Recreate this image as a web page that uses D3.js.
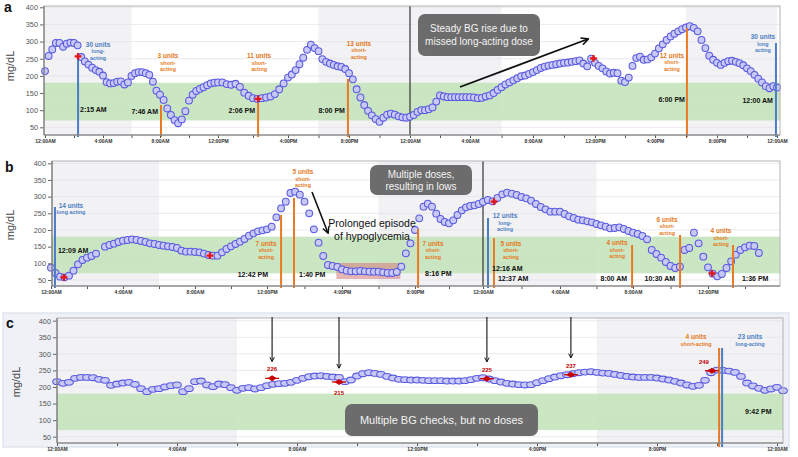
<!DOCTYPE html>
<html><head><meta charset="utf-8">
<script src="https://cdn.jsdelivr.net/npm/d3@7"></script>
<style>
body{margin:0;background:#fff;}
svg{display:block;font-family:"Liberation Sans",Arial,sans-serif;}
</style></head><body>
<svg id="chart" width="798" height="457"></svg>
<script>
// ---------------- DATA ----------------
const tickLabels = ["12:00AM","4:00AM","8:00AM","12:00PM","4:00PM","8:00PM","12:00AM","4:00AM","8:00AM","12:00PM","4:00PM","8:00PM","12:00AM"];
const yTicks = [50,100,150,200,250,300,350,400];
const targetRange = [70,180];

// Panel a: CGM readings every 15 min from 12:00 AM (day 1) to 12:00 AM (day 3)
const aGlucose = [214,258,277,296, 296,285,294,297, 296,289,255,242, 233,224,217,212,
 201,182,178,179, 183,184,175,181, 200,208,211,211, 208,203,183,157,
 145,130,105,86, 71,62,73,97, 128,145,156,162, 167,173,178,180,
 181,181,176,174, 177,168,151,142, 135,133,135,137, 140,147,161,178,
 195,204,217,234, 253,276,291,281, 272,249,241,236, 232,228,226,220,
 208,190,161,137, 115,98,85,74, 66,78,87,90, 87,82,79,78,
 81,86,95,100, 100,103,108,125, 143,140,138,138, 138,138,138,138,
 138,137,135,136, 140,143,150,159, 167,175,181,187, 193,199,201,206,
 211,217,223,227, 230,232,234,236, 238,239,241,243, 245,236,228,250,
 238,229,222,213, 207,209,208,186, 182,195,229,252, 256,247,248,254,
 265,280,292,305, 315,323,330,336, 341,345,340,330, 305,281,259,247,
 238,232,238,243, 244,241,237,231, 222,214,203,192, 181,170,164,170, 166];
const aDoses = [
 {t:2.28, units:30, type:"long", time:"2:15 AM"},
 {t:8.07, units:3, type:"short", time:"7:46 AM"},
 {t:14.29, units:11, type:"short", time:"2:06 PM"},
 {t:19.93, units:13, type:"short", time:"8:00 PM"},
 {t:42.06, units:12, type:"short", time:"6:00 PM"},
 {t:47.93, units:30, type:"long", time:"12:00 AM"}];
const aChecks = [{t:2.28,v:257},{t:14.29,v:133},{t:35.9,v:251}];

// Panel b: CGM readings every 15 min from 12:00 AM
const bGlucose = [87,71,60,58, 63,78,97,110, 117,122,129,null, 150,155,159,164,
 168,170,172,170, 167,164,160,158, 155,153,151,149, 146,138,135,135,
 134,133,129,125, 123,123,133,143, 151,158,165,173, 183,190,196,199,
 202,210,238,265, 285,311,315,306, 285,250,202,162, 122,95,92,89,
 82,78,76,76, 77,76,75,75, 75,73,71,71, 74,90,130,160,
 200,235,270,279, 270,249,233,224, 220,229,245,259, 268,272,274,278,
 284,290,286,296, 307,312,309,305, 299,295,288,278, 269,262,255,255,
 255,248,241,236, 231,229,226,223, 218,214,210,205, 206,208,203,197,
 192,188,182,172, 140,128,117,104, 92,86,90,140, 146,192,160,120,
 88,69,61,68, 86,106,126,140, 148,153,152,131];
const bDoses = [
 {t:0.22, units:14, type:"long", time:"12:09 AM"},
 {t:12.75, units:7, type:"short", time:"12:42 PM"},
 {t:13.44, units:5, type:"short", time:"1:40 PM"},
 {t:20.18, units:7, type:"short", time:"8:16 PM"},
 {t:24.26, units:12, type:"long", time:"12:16 AM"},
 {t:24.57, units:5, type:"short", time:"12:37 AM"},
 {t:31.95, units:4, type:"short", time:"8:00 AM"},
 {t:34.51, units:6, type:"short", time:"10:30 AM"},
 {t:37.35, units:4, type:"short", time:"1:36 PM"}];
const bChecks = [{t:0.72,v:58},{t:8.83,v:123},{t:24.57,v:285},{t:36.22,v:70}];
const bLowEpisode = {t0:15.7, t1:19.2, v0:53, v1:101};

// Panel c: CGM readings every 12 min from 12:00 AM
const cGlucose = [216,211,214,226,229,229,228,223,220,205,
 209,212,214,208,195,186,193,195,200,204,
 206,186,195,216,218,206,201,209,207,198,
 190,196,198,194,198,204,208,210,211,214,
 220,226,231,233,234,232,230,229,216,221,
 233,240,243,241,238,232,227,223,222,221,
 221,220,219,219,219,218,218,218,219,222,
 226,228,224,219,215,211,209,207,206,207,
 213,219,225,230,234,237,240,243,245,246,
 244,242,241,238,235,232,230,229,229,229,
 227,224,221,217,212,206,202,205,220,243,
 251,250,248,244,232,212,203,196,190,194,
 199,189];
const cDoses = [
 {t:22.07, units:4, type:"short", time:"9:42 PM"},
 {t:22.17, units:23, type:"long", time:"9:42 PM"}];
const cChecks = [{t:7.17,v:226,arrow:true},{t:9.4,v:215,arrow:true},{t:14.33,v:225,arrow:true},{t:17.13,v:237,arrow:true},{t:21.83,v:249,arrow:false}];

// ---------------- STYLE / LAYOUT ----------------
const ORANGE_T="#e47a1c", BLUE_T="#4e80c3", ORANGE_L="#ea7a22", BLUE_L="#4b7cc6";
const svg = d3.select("#chart");
const defs = svg.append("defs");
defs.append("marker").attr("id","arrow").attr("viewBox","0 0 10 10").attr("refX",8.5).attr("refY",5)
  .attr("markerWidth",5).attr("markerHeight",5).attr("orient","auto")
  .append("path").attr("d","M1,1 L9,5 L1,9").attr("fill","none").attr("stroke","#111").attr("stroke-width",1.8);

const xA = d3.scaleLinear().domain([0,4,8,12,16,20,24,28,32,36,40,44,48]).range([45,103,160,218,288,349,410,470,533,595,655,717,777]);
const yA = d3.scaleLinear().domain([27.6,400]).range([135,7.3]);
const xB = d3.scaleLinear().domain([0,4,8,12,16,20,24,28,32,36,40]).range([51,123,195,267,342,415,483,560,633,708,782]);
const yB = d3.scaleLinear().domain([32,400]).range([286,163.3]);
const xC = d3.scaleLinear().domain([0,24]).range([57,777]);
const yC = d3.scaleLinear().domain([31,400]).range([443,320.7]);

function drawPanel(P){
  const g = svg.append("g");
  const {x,y,L,R,T,B} = P;
  if(P.outer) g.append("rect").attr("x",P.outer[0]).attr("y",P.outer[1]).attr("width",P.outer[2]).attr("height",P.outer[3])
     .attr("fill","#eff1f6").attr("stroke","#dfe5ee").attr("stroke-width",1.5);
  g.append("rect").attr("x",L).attr("y",T).attr("width",R-L).attr("height",B-T).attr("fill","#fff");
  g.selectAll(".night").data(P.night).join("rect").attr("class","night")
    .attr("x",d=>x(d[0])).attr("y",T).attr("width",d=>Math.min(x(d[1]),R)-x(d[0])).attr("height",B-T).attr("fill","#f2f2f4");
  g.selectAll(".grid").data(yTicks).join("line").attr("class","grid")
    .attr("x1",L).attr("x2",R).attr("y1",d=>y(d)).attr("y2",d=>y(d)).attr("stroke","#e3e3e8").attr("stroke-width",0.7);
  g.append("rect").attr("x",L).attr("width",R-L).attr("y",y(targetRange[1])).attr("height",y(targetRange[0])-y(targetRange[1]))
    .attr("fill","#c4e2ba").attr("opacity",0.88);
  if(P.region){
    const r=P.region;
    g.append("rect").attr("x",x(r.t0)).attr("width",x(r.t1)-x(r.t0)).attr("y",y(r.v1)).attr("height",y(r.v0)-y(r.v1))
      .attr("fill","#d48484").attr("opacity",0.6);
  }
  if(P.dayBreak!=null) g.append("line").attr("x1",x(P.dayBreak)).attr("x2",x(P.dayBreak)).attr("y1",T).attr("y2",B).attr("stroke","#333").attr("stroke-width",1.2);

  // glucose readings
  const pts = P.glucose.map((v,i)=>({t:i*P.step, v})).filter(d=>d.v!=null);
  g.selectAll(".bg").data(pts).join("ellipse").attr("class","bg")
    .attr("cx",d=>x(d.t)).attr("cy",d=>y(d.v)).attr("rx",P.rx).attr("ry",P.ry)
    .attr("fill","#c9c9f6").attr("stroke","#5959e0").attr("stroke-width",1.05);

  // dose lines
  P.doses.forEach((d,i)=>{
    const l=P.layout[i];
    g.append("line").attr("x1",x(d.t)).attr("x2",x(d.t)).attr("y1",l.top).attr("y2",P.lineBottom)
      .attr("stroke",d.type==="long"?BLUE_L:ORANGE_L).attr("stroke-width",2);
  });

  // BG checks
  if(P.checkStyle==="cross"){
    g.selectAll(".chk").data(P.checks).join("path").attr("class","chk")
      .attr("transform",d=>`translate(${x(d.t)},${y(d.v)})`).attr("d",d3.symbol(d3.symbolCross,26)).attr("fill","#e51515");
  } else {
    const c = g.selectAll(".chk").data(P.checks).join("g").attr("class","chk").attr("transform",d=>`translate(${x(d.t)},${y(d.v)})`);
    c.append("line").attr("x1",-7).attr("x2",7).attr("stroke","#c80000").attr("stroke-width",1.3);
    c.append("path").attr("d","M-4.5,0 L0,-3 L4.5,0 L0,3 Z").attr("fill","#c80000");
  }

  // axes
  const xt = d3.range(0,P.maxTick+0.01,2);
  g.append("g").attr("transform",`translate(0,${B})`)
    .call(d3.axisBottom(x).tickValues(xt).tickSize(3).tickSizeOuter(0).tickPadding(1.5).tickFormat(d=>d%4===0?tickLabels[d/4]:""))
    .call(s=>{s.select(".domain").remove();
      s.selectAll("line").attr("stroke","#555");
      s.selectAll("text").attr("font-size",5).attr("font-weight","bold").attr("fill","#333").attr("font-family","Liberation Sans, Arial");});
  g.append("g").attr("transform",`translate(${L},0)`)
    .call(d3.axisLeft(y).tickValues(yTicks).tickSize(4).tickSizeOuter(0).tickPadding(2))
    .call(s=>{s.select(".domain").remove();
      s.selectAll("line").attr("stroke","#666");
      s.selectAll("text").attr("font-size",7.3).attr("fill","#555").attr("font-family","Liberation Sans, Arial");});
  // frame
  g.append("rect").attr("x",L).attr("y",T).attr("width",R-L).attr("height",B-T).attr("fill","none").attr("stroke","#b4b4b8").attr("stroke-width",1);
  g.append("line").attr("x1",L).attr("x2",L).attr("y1",T).attr("y2",B).attr("stroke","#666");
  g.append("line").attr("x1",L).attr("x2",R).attr("y1",B).attr("y2",B).attr("stroke","#777");

  // y title & panel letter
  g.append("text").attr("transform",`translate(${P.titleX},${P.titleY}) rotate(-90)`).attr("text-anchor","middle")
    .attr("font-size",11).attr("fill","#444").text("mg/dL");
  g.append("text").attr("x",P.letterPos[0]).attr("y",P.letterPos[1]).attr("font-size",14).attr("font-weight","bold").attr("fill","#111").text(P.letter);

  // dose labels
  P.doses.forEach((d,i)=>{
    const l=P.layout[i], px=x(d.t), col=d.type==="long"?BLUE_T:ORANGE_T;
    g.append("text").attr("x",px+l.dx).attr("y",l.ty).attr("text-anchor","middle").attr("font-size",6.5).attr("font-weight","bold").attr("fill",col).text(`${d.units} units`);
    l.sub.forEach((s,k)=>g.append("text").attr("x",px+l.dx).attr("y",l.ty+(k+1)*6.6).attr("text-anchor","middle")
       .attr("font-size",5.4).attr("font-weight","bold").attr("fill",col).text(s));
    if(l.tty!=null) g.append("text").attr("x",px+l.tdx).attr("y",l.tty).attr("text-anchor",l.ta)
       .attr("font-size",7).attr("font-weight","bold").attr("fill","#111").text(d.time);
  });
  return g;
}

function box(g,x0,y0,w,h,lines,fs,lh){
  g.append("rect").attr("x",x0).attr("y",y0).attr("width",w).attr("height",h).attr("rx",7).attr("fill","#6c6c6c");
  const cy=y0+h/2-(lines.length-1)*lh/2;
  lines.forEach((s,k)=>g.append("text").attr("x",x0+w/2).attr("y",cy+k*lh+fs*0.36).attr("text-anchor","middle")
     .attr("font-size",fs).attr("fill","#f3f3f3").text(s));
}
function arrow(g,x1,y1,x2,y2,w){
  g.append("line").attr("x1",x1).attr("y1",y1).attr("x2",x2).attr("y2",y2).attr("stroke","#111").attr("stroke-width",w).attr("marker-end","url(#arrow)");
}

// ---------- Panel a ----------
const gA = drawPanel({x:xA,y:yA,L:44,R:780,T:6,B:135,night:[[0,6],[18,30],[42,48]],dayBreak:24,
  glucose:aGlucose,step:0.25,rx:3.4,ry:3.4,doses:aDoses,checks:aChecks,checkStyle:"cross",maxTick:48,lineBottom:137,
  titleX:14,titleY:66,letter:"a",letterPos:[4,12],
  layout:[
   {dx:20,ty:46.5,top:57,sub:["long-","acting"],tdx:2,tty:112,ta:"start"},
   {dx:7,ty:58,top:105,sub:["short-","acting"],tdx:-3,tty:114,ta:"end"},
   {dx:1,ty:58,top:103,sub:["short-","acting"],tdx:-3,tty:113,ta:"end"},
   {dx:11,ty:45.5,top:79,sub:["short-","acting"],tdx:-3,tty:113,ta:"end"},
   {dx:-15,ty:57.5,top:28,sub:["short-","acting"],tdx:-2,tty:101.5,ta:"end"},
   {dx:-13,ty:39,top:43,sub:["long","acting"],tdx:-3,tty:102.5,ta:"end"}]});
box(gA,418,14,122,42,["Steady BG rise due to","missed long-acting dose"],10,12.5);
arrow(gA,460,87,588,39,1.8);

// ---------- Panel b ----------
const gB = drawPanel({x:xB,y:yB,L:52,R:780,T:161,B:286,night:[[0,6],[18,30]],dayBreak:24,region:bLowEpisode,
  glucose:bGlucose,step:0.25,rx:3.4,ry:3.4,doses:bDoses,checks:bChecks,checkStyle:"cross",maxTick:38,lineBottom:288,
  titleX:14,titleY:225,letter:"b",letterPos:[5,172],
  layout:[
   {dx:16,ty:207.5,top:207,sub:["long acting"],tdx:3,tty:252.5,ta:"start"},
   {dx:-15,ty:245.5,top:215,sub:["short-","acting"],tdx:-13,tty:276.5,ta:"end"},
   {dx:9,ty:174,top:198,sub:["short-","acting"],tdx:5,tty:276.5,ta:"start"},
   {dx:15,ty:245.5,top:229,sub:["short-","acting"],tdx:7,tty:276,ta:"start"},
   {dx:17,ty:218,top:218,sub:["long-","acting"],tdx:4,tty:270.5,ta:"start"},
   {dx:17,ty:245.5,top:238,sub:["short-","acting"],tdx:4,tty:280.5,ta:"start"},
   {dx:-15,ty:245,top:245,sub:["short-","acting"],tdx:-5,tty:280.5,ta:"end"},
   {dx:-13,ty:221.5,top:235,sub:["short-","acting"],tdx:-5,tty:280.5,ta:"end"},
   {dx:-12,ty:233,top:245,sub:["short-","acting"],tdx:9,tty:280.5,ta:"start"}]});
box(gB,370,165,102,30,["Multiple doses,","resulting in lows"],10,12);
gB.append("text").attr("x",372).attr("y",227).attr("text-anchor","middle").attr("font-size",10.5).attr("fill","#111").text("Prolonged episode");
gB.append("text").attr("x",372).attr("y",240).attr("text-anchor","middle").attr("font-size",10.5).attr("fill","#111").text("of hypoglycemia");
arrow(gB,312,192,328,233,1.6);

// ---------- Panel c ----------
const gC = drawPanel({x:xC,y:yC,L:57,R:783,T:318,B:443,night:[[0,6],[18,24.3]],outer:[3,313,786,134],
  glucose:cGlucose,step:0.2,rx:4.3,ry:2.9,doses:cDoses,checks:cChecks,checkStyle:"diamond",maxTick:24,lineBottom:447,
  titleX:20,titleY:382,letter:"c",letterPos:[6,328],
  layout:[
   {dx:-23,ty:339,top:348,sub:["short-acting"],tty:null},
   {dx:28,ty:339,top:348,sub:["long-acting"],tdx:23,tty:414,ta:"start"}]});
cChecks.forEach(d=>{
  const below = d.v===215;
  const px = xC(d.t), py = yC(d.v);
  gC.append("text").attr("x",px+(d.arrow?0:-8)).attr("y",below?py+13:py-7).attr("text-anchor","middle")
    .attr("font-size",6).attr("font-weight","bold").attr("fill","#c00000").text(d.v);
  if(d.arrow) arrow(gC,px,317,px,below?py-14:py-17,1.1);
});
box(gC,345,404,193,32,["Multiple BG checks, but no doses"],11,12);
</script>
</body></html>
